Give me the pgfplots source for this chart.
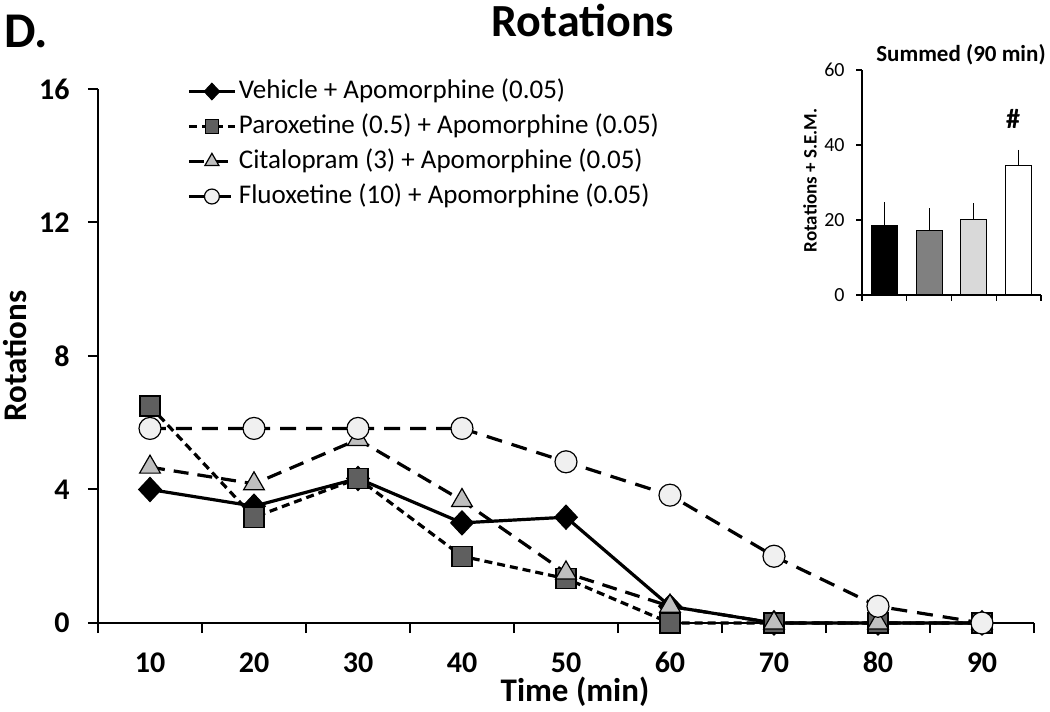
\documentclass[border=0pt]{standalone}
\usepackage{fontspec}
\setmainfont{Carlito}
\usepackage{pgfplots}
\pgfplotsset{compat=1.18}
\definecolor{parox}{HTML}{5F5F5F}
\definecolor{cital}{HTML}{BFBFBF}
\definecolor{fluox}{HTML}{F0F0F0}
\definecolor{barB}{HTML}{808080}
\definecolor{barC}{HTML}{D9D9D9}
\begin{document}
\begin{tikzpicture}
\path[use as bounding box] (-49pt,-44.5pt) rectangle (476pt,311.5pt);
\begin{axis}[
  at={(0,0)}, anchor=south west,
  scale only axis, width=468pt, height=267pt,
  xmin=5, xmax=95, ymin=0, ymax=16,
  axis lines*=left,
  axis line style={line width=1pt, -},
  tick align=outside, major tick length=5pt,
  tick style={line width=1pt, black},
  xtick={5,15,...,95},
  x tick label as interval,
  xticklabels={10,20,30,40,50,60,70,80,90},
  ytick={0,4,8,12,16},
  /pgf/number format/assume math mode=true,
  ticklabel style={font=\fontsize{15}{18}\selectfont\bfseries},
  x tick label style={anchor=base, inner sep=0pt, yshift=-19.5pt},
  y tick label style={anchor=east, inner sep=0pt, xshift=-9pt},
  clip=false,
  legend style={at={(rel axis cs:0.095,1.026)}, anchor=north west, draw=none, fill=none,
    font=\fontsize{13.5}{16}\selectfont, inner sep=0pt, row sep=1.5pt,
    nodes={inner xsep=1.2pt, inner ysep=1.5pt, text height=10pt, text depth=3pt}},
  legend cell align=left,
  legend image code/.code={\draw[mark repeat=2,mark phase=2, /tikz/every mark/.append style={scale=0.68}] plot coordinates {(0pt,0pt) (11.5pt,0pt) (23pt,0pt)};},
]
\addplot[black, line width=1.6pt, mark=diamond*, mark size=6pt,
  mark options={solid, fill=black, draw=black, line width=0.6pt, xscale=1.25}]
  coordinates {(10,4.0) (20,3.5) (30,4.33) (40,3.0) (50,3.17) (60,0.5) (70,0) (80,0) (90,0)};
\addlegendentry{Vehicle + Apomorphine (0.05)}
\addplot[black, line width=1.6pt, dash pattern=on 4pt off 2.5pt, mark=square*, mark size=5pt,
  mark options={solid, fill=parox, draw=black, line width=0.6pt}]
  coordinates {(10,6.5) (20,3.17) (30,4.33) (40,2.0) (50,1.33) (60,0) (70,0) (80,0) (90,0)};
\addlegendentry{Paroxetine (0.5) + Apomorphine (0.05)}
\addplot[black, line width=1.6pt, dash pattern=on 7.5pt off 4.5pt, mark=triangle*, mark size=6pt,
  mark options={solid, fill=cital, draw=black, line width=0.6pt}]
  coordinates {(10,4.67) (20,4.17) (30,5.5) (40,3.67) (50,1.5) (60,0.5) (70,0) (80,0) (90,0)};
\addlegendentry{Citalopram (3) + Apomorphine (0.05)}
\addplot[black, line width=1.6pt, dash pattern=on 8pt off 5pt, mark=*, mark size=5.5pt,
  mark options={solid, fill=fluox, draw=black, line width=0.6pt}]
  coordinates {(10,5.83) (20,5.83) (30,5.83) (40,5.83) (50,4.83) (60,3.83) (70,2.0) (80,0.5) (90,0)};
\addlegendentry{Fluoxetine (10) + Apomorphine (0.05)}
\end{axis}
\begin{axis}[
  at={(382pt,164pt)}, anchor=south west,
  scale only axis, width=89.5pt, height=112.5pt,
  xmin=0.5, xmax=4.5, ymin=0, ymax=60,
  axis lines*=left,
  axis line style={line width=0.6pt, -},
  tick align=outside, major tick length=3pt,
  tick style={line width=0.6pt, black},
  xtick={0.5,1.5,...,4.5}, xticklabels={},
  ytick={0,20,40,60},
  /pgf/number format/assume math mode=true,
  ticklabel style={font=\fontsize{10}{12}\selectfont},
  y tick label style={anchor=east, inner sep=0pt, xshift=-5.5pt},
  clip=false,
]
\addplot[ybar, bar width=13pt, bar shift=0pt, fill=black, draw=black, line width=0.5pt,
  error bars/.cd, y dir=plus, y explicit,
  error bar style={line width=0.6pt, black}, error mark options={line width=0.6pt, mark size=3pt, black}]
  coordinates {(1,18.5) +- (0,4.6)};
\addplot[ybar, bar width=13pt, bar shift=0pt, fill=barB, draw=black, line width=0.5pt,
  error bars/.cd, y dir=plus, y explicit,
  error bar style={line width=0.6pt, black}, error mark options={line width=0.6pt, mark size=3pt, black}]
  coordinates {(2,17.3) +- (0,4.2)};
\addplot[ybar, bar width=13pt, bar shift=0pt, fill=barC, draw=black, line width=0.5pt,
  error bars/.cd, y dir=plus, y explicit,
  error bar style={line width=0.6pt, black}, error mark options={line width=0.6pt, mark size=3pt, black}]
  coordinates {(3,20.0) +- (0,2.9)};
\addplot[ybar, bar width=13pt, bar shift=0pt, fill=white, draw=black, line width=0.5pt,
  error bars/.cd, y dir=plus, y explicit,
  error bar style={line width=0.6pt, black}, error mark options={line width=0.6pt, mark size=3pt, black}]
  coordinates {(4,34.5) +- (0,2.6)};
\end{axis}
\node[anchor=base west, inner sep=0pt, font=\fontsize{25}{30}\selectfont\bfseries] at (-47pt,287.5pt) {D.};
\node[anchor=base, inner sep=0pt, font=\fontsize{23}{28}\selectfont\bfseries] at (242.5pt,293pt) {Rotations};
\node[anchor=base, inner sep=0pt, font=\fontsize{16.5}{20}\selectfont\bfseries] at (238.5pt,-39.5pt) {Time (min)};
\node[anchor=base, rotate=90, inner sep=0pt, font=\fontsize{16.5}{20}\selectfont\bfseries] at (-35.5pt,133.5pt) {Rotations};
\node[anchor=base, inner sep=0pt, font=\fontsize{11.5}{14}\selectfont\bfseries] at (431.5pt,280.5pt) {Summed (90 min)};
\node[anchor=center, rotate=90, inner sep=0pt, font=\fontsize{9.5}{12}\selectfont\bfseries] at (356pt,221.25pt) {Rotations + S.E.M.};
\node[anchor=center, inner sep=0pt, font=\fontsize{14}{16}\selectfont\bfseries] at (457.5pt,252pt) {\#};
\end{tikzpicture}
\end{document}
